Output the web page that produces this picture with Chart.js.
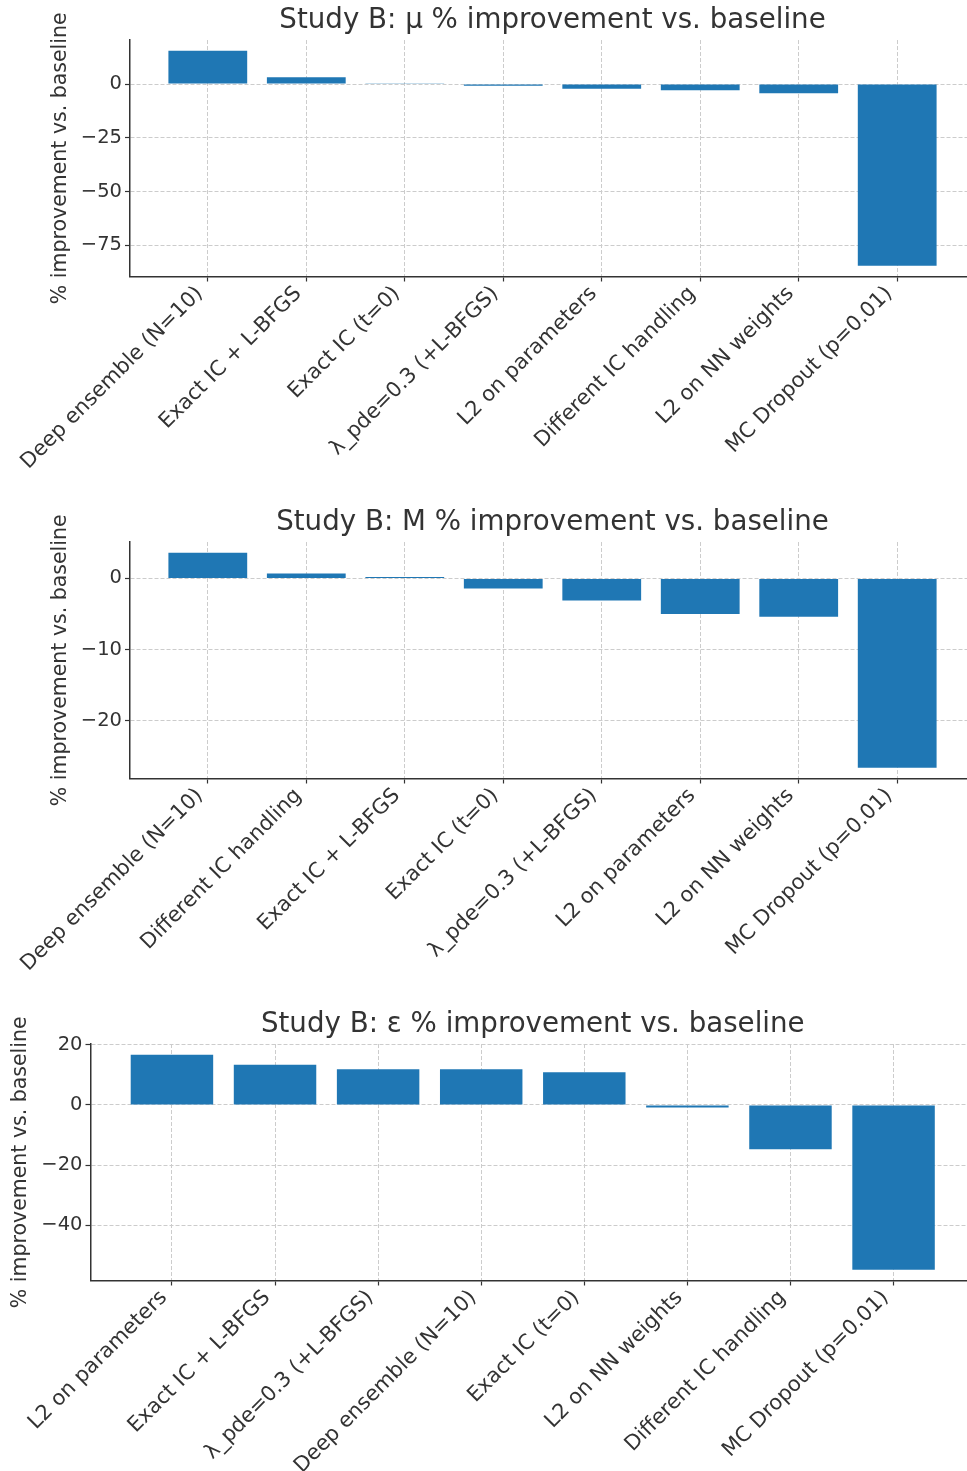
<!DOCTYPE html>
<html>
<head>
<meta charset="utf-8">
<script src="https://cdn.jsdelivr.net/npm/chart.js@4.4.1/dist/chart.umd.min.js"></script>
<style>
  html, body { margin: 0; padding: 0; background: #fff; }
  body { width: 967px; height: 1471px; overflow: hidden; position: relative; }
  canvas { position: absolute; left: 0; }
</style>
</head>
<body>
<canvas id="muChart" width="980" height="480" style="top:0px"></canvas>
<canvas id="mChart" width="980" height="480" style="top:502px"></canvas>
<canvas id="epsChart" width="980" height="470" style="top:1004px"></canvas>
<script>
// mu study
const muLabels = ['Deep ensemble (N=10)', 'Exact IC + L-BFGS', 'Exact IC (t=0)', 'λ_pde=0.3 (+L-BFGS)',
  'L2 on parameters', 'Different IC handling', 'L2 on NN weights', 'MC Dropout (p=0.01)'];
const muValues = [15.5, 3.2, 0.2, -0.8, -2.2, -2.8, -4.2, -84.5];
const muTicks = [0, -25, -50, -75];

// M study
const mLabels = ['Deep ensemble (N=10)', 'Different IC handling', 'Exact IC + L-BFGS', 'Exact IC (t=0)',
  'λ_pde=0.3 (+L-BFGS)', 'L2 on parameters', 'L2 on NN weights', 'MC Dropout (p=0.01)'];
const mValues = [3.6, 0.7, 0.2, -1.4, -3.1, -5.0, -5.4, -26.6];
const mTicks = [0, -10, -20];

// epsilon study
const epsLabels = ['L2 on parameters', 'Exact IC + L-BFGS', 'λ_pde=0.3 (+L-BFGS)', 'Deep ensemble (N=10)',
  'Exact IC (t=0)', 'L2 on NN weights', 'Different IC handling', 'MC Dropout (p=0.01)'];
const epsValues = [16.7, 13.4, 11.9, 11.9, 10.9, -0.8, -14.7, -54.8];
const epsTicks = [20, 0, -20, -40];

Chart.defaults.font.family = "'DejaVu Sans', sans-serif";
Chart.defaults.color = '#333333';

const TEXT = '#333333';
const GRID = '#cccccc';

function barChart(id, title, labels, values, yTicks, axisWidth, labelPad, canvasH) {
  // 5% margins like matplotlib autoscale
  const lo = Math.min(0, ...values), hi = Math.max(0, ...values);
  const pad = (hi - lo) * 0.05;
  const xPad = (labels.length - 0.2) * 0.05;

  return new Chart(document.getElementById(id), {
    type: 'bar',
    data: {
      datasets: [{
        data: values.map((v, i) => ({ x: i, y: v })),
        backgroundColor: '#1f77b4',
        borderWidth: 0,
        barPercentage: 0.8,
        categoryPercentage: 1.0
      }]
    },
    options: {
      responsive: false,
      animation: false,
      layout: { padding: { left: 0, right: 5, top: 0, bottom: 0 } },
      plugins: {
        legend: { display: false },
        tooltip: { enabled: false },
        title: {
          display: true,
          text: title,
          fullSize: false,
          color: TEXT,
          font: { size: 27.7, weight: 'normal' },
          padding: { top: 4, bottom: 2.8 }
        }
      },
      scales: {
        x: {
          type: 'linear',
          offset: false,
          z: 1,
          min: -0.4 - xPad,
          max: labels.length - 0.6 + xPad,
          afterBuildTicks: (s) => { s.ticks = labels.map((_, i) => ({ value: i })); },
          afterFit: (s) => { s.height = canvasH - 276.5; },
          ticks: {
            autoSkip: false,
            minRotation: 45,
            maxRotation: 45,
            padding: 0,
            labelOffset: -8,
            color: TEXT,
            font: { size: 21 },
            callback: (v, i) => labels[i]
          },
          grid: { offset: false, color: GRID, lineWidth: 1, tickLength: 5, tickColor: TEXT, tickWidth: 1.2 },
          border: { display: true, color: TEXT, width: 1.5, dash: [4, 2] }
        },
        y: {
          type: 'linear',
          z: 1,
          min: lo - pad,
          max: hi + pad,
          afterBuildTicks: (s) => { s.ticks = yTicks.map(v => ({ value: v })); },
          afterFit: (s) => { s.width = axisWidth; },
          ticks: {
            padding: 3,
            color: TEXT,
            font: { size: 19.5 },
            callback: (v) => String(v).replace('-', '\u2212')
          },
          grid: { color: GRID, lineWidth: 1, tickLength: 5, tickColor: TEXT, tickWidth: 1.2 },
          border: { display: true, color: TEXT, width: 1.5, dash: [4, 2] },
          title: {
            display: true,
            text: '% improvement vs. baseline',
            color: TEXT,
            font: { size: 20.5 },
            padding: { top: labelPad, bottom: 0 }
          }
        }
      }
    }
  });
}

barChart('muChart', 'Study B: μ % improvement vs. baseline', muLabels, muValues, muTicks, 130, 48.5, 480);
barChart('mChart', 'Study B: M % improvement vs. baseline', mLabels, mValues, mTicks, 130, 48.5, 480);
barChart('epsChart', 'Study B: ε % improvement vs. baseline', epsLabels, epsValues, epsTicks, 90.5, 8, 470);
</script>
</body>
</html>
